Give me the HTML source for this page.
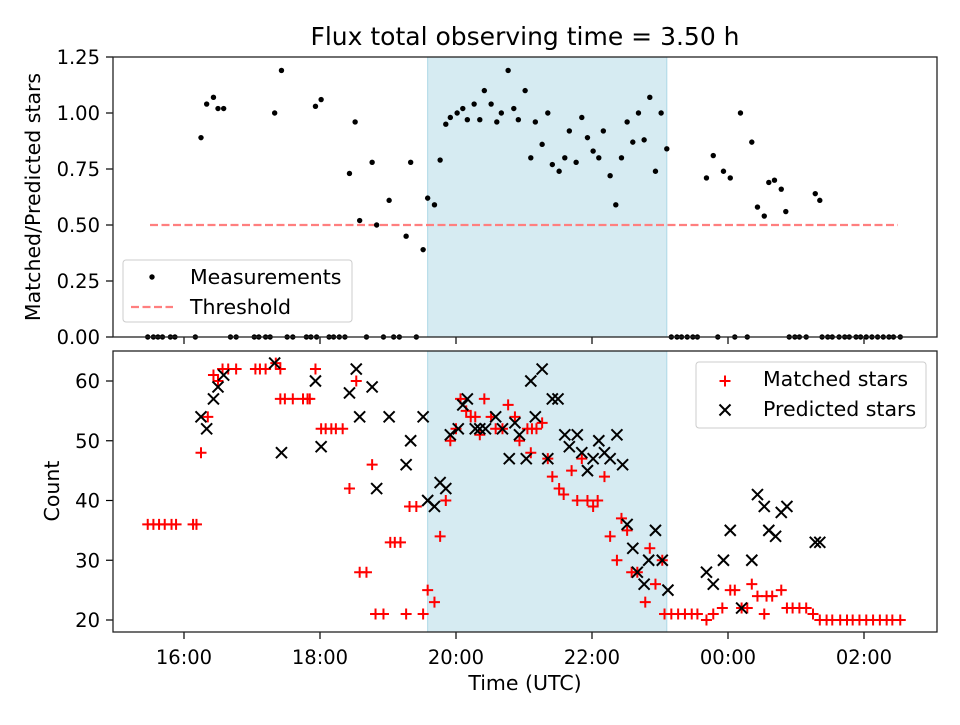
<!DOCTYPE html>
<html><head><meta charset="utf-8"><style>
body{margin:0;background:#fff}
svg text{font-family:"DejaVu Sans","Liberation Sans",sans-serif;fill:#000}
</style></head><body>
<svg id="fig" width="960" height="720" xmlns="http://www.w3.org/2000/svg">
<rect width="960" height="720" fill="#fff"/>
<text x="525" y="45" font-size="25" text-anchor="middle">Flux total observing time = 3.50 h</text>
<g id="topPanel"></g>
<g id="botPanel"></g>
</svg>
<script>
// times in minutes after 16:00
const ratioTimes=[15,20,26,30,35,80,86,116,121,146,151,155,166,170,181,196,200,211,215,221,226,231,235,241,246,250,256,261,265,271,276,280,286,291,295,301,306,310,316,321,325,331,336,340,346,351,356,361,366,370,376,381,386,391,396,401,406,411,416,421,426,461,467,476,482,491,501,506,512,516,521,527,531,557,561];
const ratioValues=[0.89,1.04,1.07,1.02,1.02,1.0,1.19,1.03,1.06,0.73,0.96,0.52,0.78,0.50,0.61,0.45,0.78,0.39,0.62,0.59,0.79,0.95,0.98,1.0,1.02,0.97,1.04,0.97,1.10,1.04,0.96,1.0,1.19,1.02,0.97,1.10,0.80,0.96,0.86,1.0,0.77,0.74,0.80,0.92,0.78,0.98,0.89,0.83,0.80,0.92,0.72,0.59,0.80,0.96,0.87,1.0,0.88,1.07,0.74,1.0,0.84,0.71,0.81,0.74,0.71,1.0,0.87,0.58,0.54,0.69,0.70,0.66,0.56,0.64,0.61];
const zeroTimes=[-32,-27,-23,-19,-12,-8,10,41,46,62,66,72,76,91,96,108,112,117,128,132,137,142,161,176,185,190,205,430,435,439,444,449,453,471,486,497,534,539,543,549,563,568,572,578,583,587,593,597,602,607,612,617,622,626,632];
const matchedTimes=[-32,-27,-22,-17,-11,-7,8,11,15,21,26,30,34,39,46,63,67,72,81,85,85,89,96,105,109,111,116,121,125,130,134,140,146,152,155,161,166,169,176,182,186,191,196,199,205,211,215,221,226,231,235,240,244,249,253,257,261,265,271,275,281,286,292,296,303,306,307,311,316,321,325,331,335,342,347,351,356,361,365,371,376,382,386,391,395,400,407,411,416,422,424,430,436,442,448,453,461,467,475,482,486,492,497,501,506,512,514,519,527,532,537,543,549,555,561,567,572,579,585,590,596,602,608,614,620,625,632];
const matchedCounts=[36,36,36,36,36,36,36,36,48,54,61,60,62,62,62,62,62,62,63,62,57,57,57,57,57,57,62,52,52,52,52,52,42,60,28,28,46,21,21,33,33,33,21,39,39,21,25,23,34,40,50,52,57,55,54,54,51,57,54,52,52,56,54,50,52,48,52,52,53,47,44,42,41,45,40,47,40,39,40,44,34,30,37,35,28,28,23,32,26,30,21,21,21,21,21,21,20,21,22,25,25,22,22,26,24,21,24,24,25,22,22,22,22,21,20,20,20,20,20,20,20,20,20,20,20,20,20];
const predTimes=[15,20,26,30,35,80,86,116,121,146,152,155,166,170,181,196,200,211,215,221,226,231,235,242,246,250,257,261,266,275,281,287,292,296,302,306,310,316,321,325,330,336,340,347,351,356,361,366,371,376,382,387,391,396,400,406,410,416,422,427,461,467,476,482,492,501,506,512,516,522,527,532,557,561];
const predCounts=[54,52,57,59,61,63,48,60,49,58,62,54,59,42,54,46,50,54,40,39,43,42,51,52,56,57,52,52,52,54,52,47,53,51,47,60,54,62,47,57,57,51,49,51,48,45,47,50,48,47,51,46,36,32,28,26,30,35,30,25,28,26,30,35,22,30,41,39,35,34,38,39,33,33];
const xTickLabels=['16:00','18:00','20:00','22:00','00:00','02:00'];
const xTickMinutes=[0,120,240,360,480,600];
const topTicks=['0.00','0.25','0.50','0.75','1.00','1.25'];
const botTicks=[20,30,40,50,60];
const threshold=0.5, thrStart=-30, thrEnd=630;
const shadeStart=215, shadeEnd=426;

const NS='http://www.w3.org/2000/svg';
const L=113,R=937;
const X=m=>184+m/60*68;
const Yt=v=>337-v*224;
const Yb=v=>620-(v-20)*5.975;
function el(p,tag,a){const e=document.createElementNS(NS,tag);for(const k in a)e.setAttribute(k,a[k]);p.appendChild(e);return e;}
const gT=document.getElementById('topPanel'),gB=document.getElementById('botPanel');

function panel(g,y0,y1,name){
  const s=el(g,'rect',{x:X(shadeStart),y:y0,width:X(shadeEnd)-X(shadeStart),height:y1-y0,fill:'#add8e6','fill-opacity':0.5,stroke:'#add8e6'});
  
  
  xTickMinutes.forEach((m,i)=>{
    const t=el(g,'line',{x1:X(m),x2:X(m),y1:y1,y2:y1+7,stroke:'#000','stroke-width':1.2});
    
    
  });
}
panel(gT,57,337,'ratio');
panel(gB,351,632,'count');

topTicks.forEach(s=>{const v=parseFloat(s);
  const t=el(gT,'line',{x1:L-7,x2:L,y1:Yt(v),y2:Yt(v),stroke:'#000','stroke-width':1.2});
  
  
  const tx=el(gT,'text',{x:L-13,y:Yt(v)+7,'font-size':19.5,'text-anchor':'end'});tx.textContent=s;
  
  
});
botTicks.forEach(v=>{
  const t=el(gB,'line',{x1:L-7,x2:L,y1:Yb(v),y2:Yb(v),stroke:'#000','stroke-width':1.2});
  
  
  const tx=el(gB,'text',{x:L-13,y:Yb(v)+7,'font-size':19.5,'text-anchor':'end'});tx.textContent=v;
  
  
});
xTickLabels.forEach((s,i)=>{
  const tx=el(gB,'text',{x:X(xTickMinutes[i]),y:664,'font-size':19.5,'text-anchor':'middle'});tx.textContent=s;
  
  
});

const th=el(gT,'line',{x1:X(thrStart),x2:X(thrEnd),y1:Yt(threshold),y2:Yt(threshold),stroke:'#ff7f7f','stroke-width':2.2,'stroke-dasharray':'8,3.5'});



function dot(t,v){const c=el(gT,'circle',{cx:X(t),cy:Yt(v),r:2.7,fill:'#000'});
  
  }
ratioTimes.forEach((t,i)=>dot(t,ratioValues[i]));
zeroTimes.forEach(t=>dot(t,0));

function plus(g,x,y,c){return el(g,'path',{d:`M${x-5.5},${y}H${x+5.5}M${x},${y-5.5}V${y+5.5}`,stroke:c,'stroke-width':2,fill:'none'});}
function cross(g,x,y,c){return el(g,'path',{d:`M${x-5.5},${y-5.5}L${x+5.5},${y+5.5}M${x-5.5},${y+5.5}L${x+5.5},${y-5.5}`,stroke:c,'stroke-width':2,fill:'none'});}
matchedTimes.forEach((t,i)=>{const p=plus(gB,X(t),Yb(matchedCounts[i]),'#f00');
  
  });
predTimes.forEach((t,i)=>{const p=cross(gB,X(t),Yb(predCounts[i]),'#000');
  
  });

[[gT,57,337,'ratio-axes-frame'],[gB,351,632,'count-axes-frame']].forEach(([g,a,b,n])=>{
  const f=el(g,'rect',{x:L,y:a,width:R-L,height:b-a,fill:'none',stroke:'#222','stroke-width':1.3});
  
  
});

const lg1=el(gT,'g',{});


el(lg1,'rect',{x:123,y:260,width:229,height:62,rx:3,fill:'#fff','fill-opacity':0.8,stroke:'#ccc'});
el(lg1,'circle',{cx:152,cy:277,r:2.7,fill:'#000'});
el(lg1,'line',{x1:131,x2:173,y1:307,y2:307,stroke:'#ff7f7f','stroke-width':2.2,'stroke-dasharray':'8,3.5'});
let t1=el(lg1,'text',{x:190,y:284,'font-size':20.5});t1.textContent='Measurements';
let t2=el(lg1,'text',{x:190,y:314,'font-size':20.5});t2.textContent='Threshold';
const lg2=el(gB,'g',{});


el(lg2,'rect',{x:696,y:362,width:230,height:66,rx:3,fill:'#fff','fill-opacity':0.8,stroke:'#ccc'});
plus(lg2,725,381,'#f00');cross(lg2,725,410,'#000');
let t3=el(lg2,'text',{x:763,y:386,'font-size':20.5});t3.textContent='Matched stars';
let t4=el(lg2,'text',{x:763,y:416,'font-size':20.5});t4.textContent='Predicted stars';

let yl1=el(gT,'text',{x:0,y:0,'font-size':20.5,'text-anchor':'middle',transform:'translate(40,197) rotate(-90)'});yl1.textContent='Matched/Predicted stars';


let yl2=el(gB,'text',{x:0,y:0,'font-size':20.5,'text-anchor':'middle',transform:'translate(59,491) rotate(-90)'});yl2.textContent='Count';


let xl=el(gB,'text',{x:525,y:690,'font-size':20.5,'text-anchor':'middle'});xl.textContent='Time (UTC)';


</script>
</body></html>
